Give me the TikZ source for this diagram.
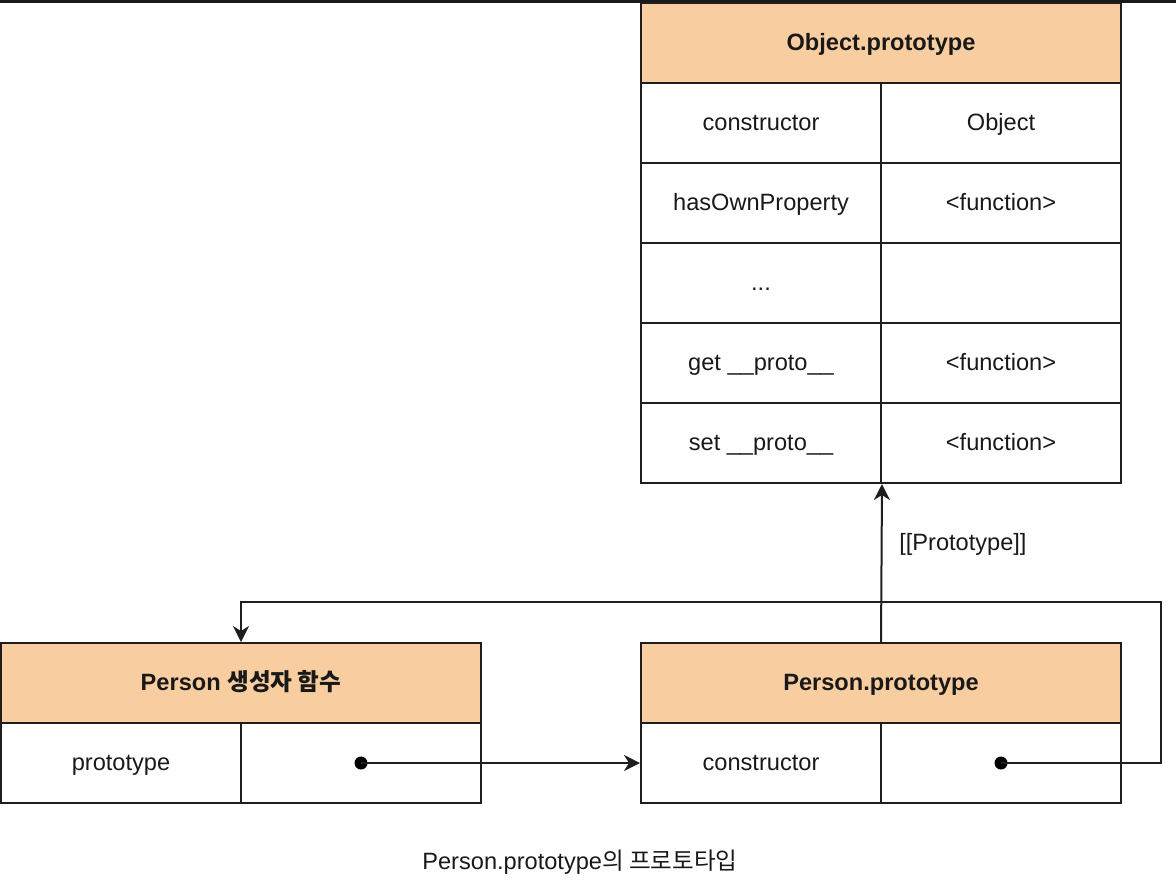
\documentclass[tikz,border=0pt]{standalone}
\usepackage{fontspec}
\setmainfont{Liberation Sans}
\newfontfamily\krfont{Noto Sans CJK KR}
\usetikzlibrary{arrows.meta}
\definecolor{headfill}{RGB}{248,205,159}
\definecolor{linegray}{RGB}{30,30,30}
\newcommand\threedots{...}

\begin{document}
\begin{tikzpicture}[x=0.5pt,y=-0.5pt,
		cell/.style={draw=linegray, line width=1pt, minimum width=120pt, minimum height=40pt, inner sep=0pt, text height=10.2pt, text depth=2.4pt, text=black!90, font=\fontsize{11.8}{14}\selectfont},
		head/.style={cell, fill=headfill, minimum width=240pt, font=\fontsize{11.8}{14}\selectfont\bfseries},
		link/.style={draw=linegray, line width=1pt, -{Stealth[length=8pt,width=8pt,inset=2.5pt]}},
		dot/.style={circle, fill=black, inner sep=0pt, minimum size=6.5pt}
			]
	\useasboundingbox (0,0) rectangle (1176,880);
	\draw[line width=1.5pt, black!90] (0,1) -- (1176,1);

	% Object.prototype
	\node[head] (objhead) at (881,43) {Object.prototype};
	\foreach \i/\k/\v in {1/constructor/Object, 2/hasOwnProperty/<function>, 3/\threedots/, 4/get \_\_proto\_\_/<function>, 5/set \_\_proto\_\_/<function>}{
		\node[cell] (objk\i) at (761,43+80*\i) {\k};
		\node[cell] (objv\i) at (1001,43+80*\i) {\v};
	}

	% Person constructor
	\node[head] (funchead) at (241,683) {Person {\krfont\bfseries 생성자 함수}};
	\node[cell] (funck) at (121,763) {prototype};
	\node[cell] (funcv) at (361,763) {};
	\node[dot] (funcdot) at (361,763) {};

	% Person.prototype
	\node[head] (protohead) at (881,683) {Person.prototype};
	\node[cell] (protok) at (761,763) {constructor};
	\node[cell] (protov) at (1001,763) {};
	\node[dot] (protodot) at (1001,763) {};

	\draw[link] (funcdot.center) -- (protok.west);
	\draw[link] (protohead.north) -- (objk5.south east)
		node[pos=0.62, right=5pt, text=black!90, font=\fontsize{11.8}{14}\selectfont] (protolabel) {[[Prototype]]};
	\draw[link] (protodot.center) -- ++(160,0) |- ([yshift=20pt]funchead.north) -- (funchead.north);

	\node[text=black!90, font=\fontsize{11.8}{14}\selectfont] (caption) at (580,862) {Person.prototype{\krfont 의 프로토타입}};
\end{tikzpicture}
\end{document}
